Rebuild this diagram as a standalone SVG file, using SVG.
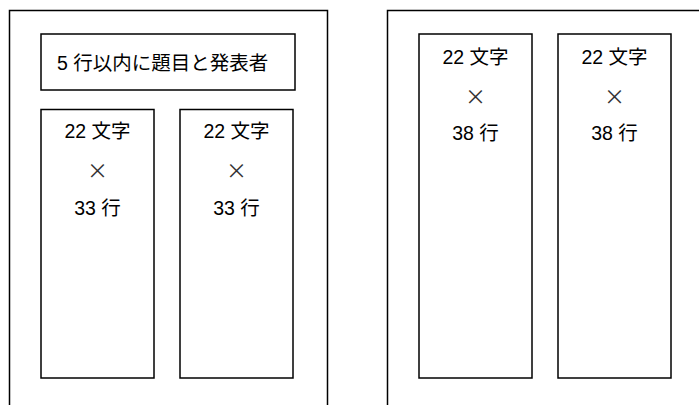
<svg xmlns="http://www.w3.org/2000/svg" width="699" height="405" viewBox="0 0 699 405">
<style>
.b{fill:#fff;stroke:#000;stroke-width:1.5}
.o{fill:none;stroke:#000;stroke-width:1.5}
text{font-family:"Liberation Sans","Noto Sans CJK JP",sans-serif;font-size:19.5px;fill:#000}
.c{text-anchor:middle}
.x{font-family:"Noto Sans CJK JP",sans-serif;font-size:21px;fill:#333}
</style>
<rect width="699" height="405" fill="#fff"/>
<g id="page-left">
<path class="o" d="M9.5,405 V10.5 H327.5 V405"/>
</g>
<g id="page-right">
<path class="o" d="M387.5,405 V10.5 H699"/>
</g>
<g id="title">
<rect class="b" x="41" y="34" width="254" height="56"/>
<text x="57" y="70">5 行以内に題目と発表者</text>
</g>
<g id="col-l1">
<rect class="b" x="41" y="109.5" width="113" height="268.5"/>
<text class="c" x="97.5" y="138">22 文字</text>
<text class="c x" x="97.5" y="178">×</text>
<text class="c" x="97.5" y="215">33 行</text>
</g>
<g id="col-l2">
<rect class="b" x="180" y="109.5" width="113" height="268.5"/>
<text class="c" x="236.5" y="138">22 文字</text>
<text class="c x" x="236.5" y="178">×</text>
<text class="c" x="236.5" y="215">33 行</text>
</g>
<g id="col-r1">
<rect class="b" x="419" y="34" width="113" height="344"/>
<text class="c" x="475.5" y="64">22 文字</text>
<text class="c x" x="475.5" y="104">×</text>
<text class="c" x="475.5" y="140">38 行</text>
</g>
<g id="col-r2">
<rect class="b" x="558" y="34" width="113" height="344"/>
<text class="c" x="614.5" y="64">22 文字</text>
<text class="c x" x="614.5" y="104">×</text>
<text class="c" x="614.5" y="140">38 行</text>
</g>
</svg>
